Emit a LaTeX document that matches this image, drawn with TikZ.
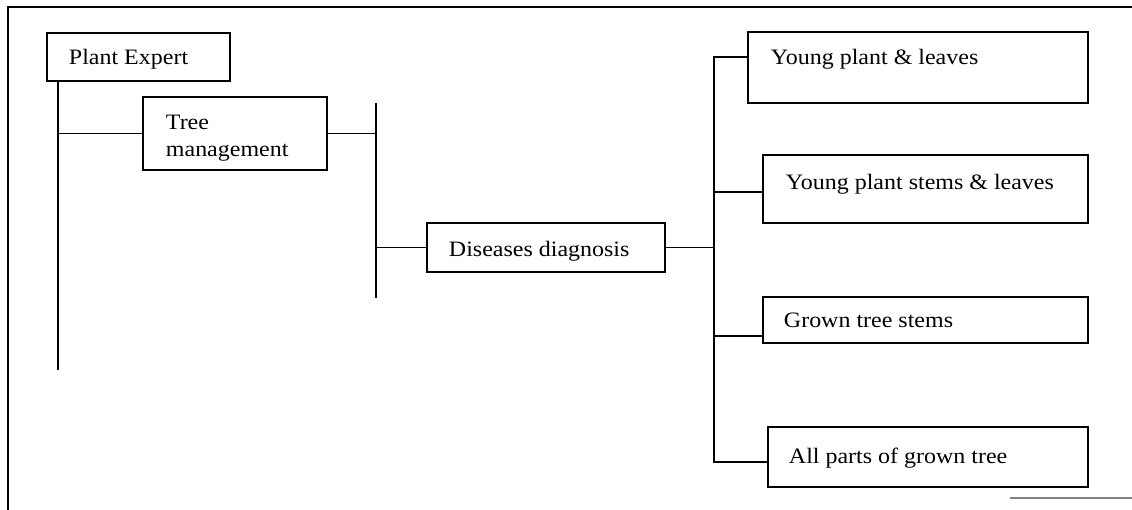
\documentclass[tikz,border=0pt]{standalone}
\usepackage{fontspec}
\setmainfont[FakeStretch=1.09]{Liberation Serif}
\usetikzlibrary{calc}
\begin{document}
\begin{tikzpicture}[x=1pt,y=-1pt,line width=1.9pt,
  box/.style={draw,line width=1.9pt,anchor=north west,inner sep=0pt,outer sep=0pt},
  lbl/.style={anchor=base west,inner sep=0pt,font=\fontsize{22}{26}\selectfont}]
\useasboundingbox (0,0) rectangle (1132,510);
% page frame
\draw[line width=2.2pt] (8,510) -- (8,7) -- (1132,7);
\draw[gray,line width=1.2pt] (1010,498) -- (1132,498);

% boxes
\node[box,minimum width=183pt,minimum height=48pt] (pe) at (47,33) {};
\node[box,minimum width=184pt,minimum height=73pt] (tm) at (143,97) {};
\node[box,minimum width=238pt,minimum height=49pt] (dd) at (427,223) {};
\node[box,minimum width=340pt,minimum height=71pt] (b1) at (748,32) {};
\node[box,minimum width=325pt,minimum height=68pt] (b2) at (763,155) {};
\node[box,minimum width=325pt,minimum height=46pt] (b3) at (763,297) {};
\node[box,minimum width=320pt,minimum height=60pt] (b4) at (768,427) {};

% labels
\node[lbl] (tpe) at (68,65) {Plant Expert};
\node[lbl] (ttm1) at (165,130) {Tree};
\node[lbl] (ttm2) at (165,157) {management};
\node[lbl] (tdd) at (448,257) {Diseases diagnosis};
\node[lbl] (tb1) at (770,65) {Young plant \& leaves};
\node[lbl] (tb2) at (785,190) {Young plant stems \& leaves};
\node[lbl] (tb3) at (783,328) {Grown tree stems};
\node[lbl] (tb4) at (788,463) {All parts of grown tree};

% bus lines
\coordinate (peend) at (58,370);
\coordinate (ttop) at (376,103);
\coordinate (tbot) at (376,298);
\coordinate (hub) at (714,247.5);
\coordinate (c1) at ($(b1.north west)!0.35!(b1.south west)$);
\coordinate (c2) at ($(b2.north west)!0.54!(b2.south west)$);
\coordinate (c3) at ($(b3.north west)!0.85!(b3.south west)$);
\coordinate (c4) at ($(b4.north west)!0.58!(b4.south west)$);

\draw (pe.south -| peend) -- (peend);
\draw (peend |- tm.west) -- (tm.west);
\draw (tm.east) -- (tm.east -| ttop);
\draw (ttop) -- (tbot);
\draw (ttop |- dd.west) -- (dd.west);
\draw (dd.east) -- (dd.east -| hub);
\draw (c1) -- (c1 -| hub) -- (c4 -| hub) -- (c4);
\draw (c2 -| hub) -- (c2);
\draw (c3 -| hub) -- (c3);
\end{tikzpicture}
\end{document}
